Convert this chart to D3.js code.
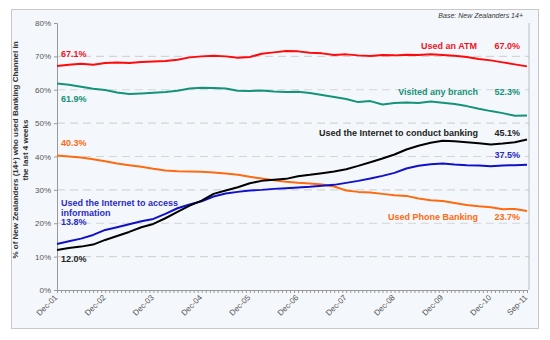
<!DOCTYPE html>
<html>
<head>
<meta charset="utf-8">
<script src="https://cdn.jsdelivr.net/npm/d3@7"></script>
<style>
  body { margin: 0; background: #fff; }
  svg { display: block; font-family: "Liberation Sans", Arial, sans-serif; }
</style>
</head>
<body>
<svg id="chart" width="550" height="340"></svg>
<script>
// quarterly readings, Dec-01 .. Sep-11
var atm = [67.1, 67.5, 67.8, 67.5, 68.0, 68.2, 68.0, 68.3, 68.5, 68.6,
  69.0, 69.7, 70.0, 70.2, 70.0, 69.6, 69.8, 70.8, 71.2, 71.6,
  71.5, 71.1, 70.9, 70.4, 70.6, 70.3, 70.1, 70.4, 70.3, 70.5,
  70.4, 70.6, 70.4, 70.2, 69.8, 69.2, 68.8, 68.2, 67.6, 67.0];
var branch = [61.9, 61.5, 60.9, 60.3, 59.9, 59.2, 58.7, 58.9, 59.1, 59.3,
  59.7, 60.4, 60.6, 60.5, 60.4, 59.7, 59.6, 59.8, 59.5, 59.3,
  59.4, 59.0, 58.4, 57.8, 57.2, 56.3, 56.6, 55.6, 56.0, 56.2,
  56.0, 56.5, 56.1, 55.7, 55.1, 54.3, 53.6, 53.0, 52.2, 52.3];
var netBanking = [12.0, 12.6, 13.0, 13.6, 15.0, 16.2, 17.4, 18.8, 19.8, 21.5,
  23.4, 25.3, 26.8, 28.8, 29.8, 30.8, 32.0, 32.7, 33.0, 33.3,
  34.1, 34.5, 35.0, 35.5, 36.2, 37.2, 38.3, 39.4, 40.6, 42.1,
  43.2, 44.1, 44.7, 44.6, 44.3, 44.0, 43.6, 43.9, 44.3, 45.1];
var netInfo = [13.8, 14.6, 15.4, 16.5, 18.0, 18.8, 19.7, 20.6, 21.3, 22.8,
  24.5, 25.6, 26.6, 28.0, 28.9, 29.4, 29.8, 30.0, 30.3, 30.5,
  30.7, 30.9, 31.2, 31.5, 32.1, 32.7, 33.4, 34.2, 35.1, 36.4,
  37.2, 37.7, 37.9, 37.6, 37.4, 37.3, 37.1, 37.3, 37.4, 37.5];
var phone = [40.3, 40.0, 39.7, 39.2, 38.6, 37.9, 37.4, 36.9, 36.3, 35.8,
  35.6, 35.5, 35.4, 35.2, 34.9, 34.5, 33.9, 33.4, 32.9, 32.4,
  32.1, 31.9, 31.6, 31.0, 29.8, 29.4, 29.2, 28.8, 28.4, 28.2,
  27.4, 26.9, 26.7, 26.1, 25.5, 25.1, 24.8, 24.2, 24.3, 23.7];

var tickLabels = ["Dec-01", "Dec-02", "Dec-03", "Dec-04", "Dec-05", "Dec-06",
  "Dec-07", "Dec-08", "Dec-09", "Dec-10", "Sep-11"];
var yTicks = [0, 10, 20, 30, 40, 50, 60, 70, 80];

var start = new Date(2001, 11, 1);
var end = new Date(2011, 8, 1);
var dates = atm.map(function(d, i) { return d3.timeMonth.offset(start, i * 3); });
var tickDates = tickLabels.map(function(t) {
  var m = t.slice(0, 3) == "Dec" ? 11 : 8;
  return new Date(2000 + +t.slice(4), m, 1);
});

var svg = d3.select("#chart");
var plotL = 57, plotR = 527, plotT = 23, plotB = 290;

var x = d3.scaleTime().domain([start, end]).range([plotL, plotR]);
var y = d3.scaleLinear().domain([0, 80]).range([plotB, plotT]);

// panel
svg.append("rect")
  .attr("x", 11.5).attr("y", 9.5)
  .attr("width", 527).attr("height", 319)
  .attr("fill", "#f4f8fc")
  .attr("stroke", "#c8c8c8");

svg.append("text")
  .attr("x", 523).attr("y", 18)
  .attr("text-anchor", "end")
  .attr("font-size", 7).attr("font-style", "italic")
  .attr("fill", "#333")
  .text("Base: New Zealanders 14+");

// dashed grid
svg.append("g").selectAll("line")
  .data(yTicks.filter(function(d) { return d > 0 && d < 80; }))
  .enter().append("line")
  .attr("x1", plotL).attr("x2", plotR + 2)
  .attr("y1", function(d) { return y(d); })
  .attr("y2", function(d) { return y(d); })
  .attr("stroke", "#d2d4d6")
  .attr("stroke-width", 1.2)
  .attr("stroke-dasharray", "8,5");

// axes
var yAxis = svg.append("g")
  .attr("transform", "translate(" + plotL + ",0)")
  .call(d3.axisLeft(y).tickValues(yTicks).tickSize(3)
    .tickFormat(function(d) { return d + "%"; }));
yAxis.select(".domain").attr("stroke", "#999");
yAxis.selectAll(".tick line").attr("stroke", "#999");
yAxis.selectAll("text").attr("font-size", 8).attr("fill", "#555")
  .attr("font-family", "Liberation Sans, Arial, sans-serif");

var xAxis = svg.append("g")
  .attr("transform", "translate(0," + plotB + ")")
  .call(d3.axisBottom(x).tickValues(d3.timeMonth.range(start, d3.timeMonth.offset(end, 1)))
    .tickSize(3).tickFormat(""));
xAxis.select(".domain").attr("stroke", "#999");
xAxis.selectAll(".tick line").attr("stroke", "#999");

svg.append("line")
  .attr("x1", plotR + 2).attr("x2", plotR + 2)
  .attr("y1", plotT).attr("y2", plotB)
  .attr("stroke", "#bbb");

svg.append("g").selectAll("text")
  .data(tickDates)
  .enter().append("text")
  .attr("transform", function(d) {
    return "translate(" + (x(d) + 1) + "," + (plotB + 8) + ") rotate(-45)";
  })
  .attr("text-anchor", "end")
  .attr("font-size", 8)
  .attr("fill", "#555")
  .text(function(d, i) { return tickLabels[i]; });

// y title
var yTitle = svg.append("text")
  .attr("transform", "translate(18,150) rotate(-90)")
  .attr("text-anchor", "middle")
  .attr("font-size", 8).attr("font-weight", "bold")
  .attr("fill", "#333");
yTitle.append("tspan").attr("x", 0).attr("dy", 0)
  .text("% of New Zealanders (14+) who used Banking Channel in");
yTitle.append("tspan").attr("x", 0).attr("dy", 10)
  .text("the last 4 weeks");

// series
var series = [
  { values: phone, color: "#ff6a10" },
  { values: netInfo, color: "#1010c8" },
  { values: netBanking, color: "#000000" },
  { values: branch, color: "#14937a" },
  { values: atm, color: "#ff0a0a" }
];

var line = d3.line()
  .x(function(d, i) { return x(dates[i]); })
  .y(function(d) { return y(d); });

svg.append("g").selectAll("path")
  .data(series)
  .enter().append("path")
  .attr("d", function(s) { return line(s.values); })
  .attr("fill", "none")
  .attr("stroke", function(s) { return s.color; })
  .attr("stroke-width", 2)
  .attr("stroke-linejoin", "round");

// labels
var labels = [
  { text: atm[0].toFixed(1) + "%", x: 61, y: 57, color: "#f0141e" },
  { text: branch[0].toFixed(1) + "%", x: 61, y: 102, color: "#169078" },
  { text: phone[0].toFixed(1) + "%", x: 61, y: 146, color: "#ff6a10" },
  { text: "Used the Internet to access", x: 61, y: 206, color: "#2a2ac8" },
  { text: "information", x: 61, y: 216, color: "#2a2ac8" },
  { text: netInfo[0].toFixed(1) + "%", x: 61, y: 225, color: "#2a2ac8" },
  { text: netBanking[0].toFixed(1) + "%", x: 61, y: 262, color: "#222" },
  { text: "Used an ATM", x: 477, y: 49, color: "#f0141e", anchor: "end" },
  { text: atm[atm.length - 1].toFixed(1) + "%", x: 520, y: 49, color: "#f0141e", anchor: "end" },
  { text: "Visited any branch", x: 478, y: 95, color: "#169078", anchor: "end" },
  { text: branch[branch.length - 1].toFixed(1) + "%", x: 520, y: 95, color: "#169078", anchor: "end" },
  { text: "Used the Internet to conduct banking", x: 478, y: 136, color: "#222", anchor: "end" },
  { text: netBanking[netBanking.length - 1].toFixed(1) + "%", x: 520, y: 136, color: "#222", anchor: "end" },
  { text: netInfo[netInfo.length - 1].toFixed(1) + "%", x: 520, y: 158, color: "#2a2ac8", anchor: "end" },
  { text: "Used Phone Banking", x: 478, y: 220, color: "#ff6a10", anchor: "end" },
  { text: phone[phone.length - 1].toFixed(1) + "%", x: 520, y: 220, color: "#ff6a10", anchor: "end" }
];

svg.append("g").selectAll("text")
  .data(labels)
  .enter().append("text")
  .attr("x", function(d) { return d.x; })
  .attr("y", function(d) { return d.y; })
  .attr("text-anchor", function(d) { return d.anchor || "start"; })
  .attr("font-size", 9)
  .attr("font-weight", "bold")
  .attr("fill", function(d) { return d.color; })
  .text(function(d) { return d.text; });
</script>
</body>
</html>
